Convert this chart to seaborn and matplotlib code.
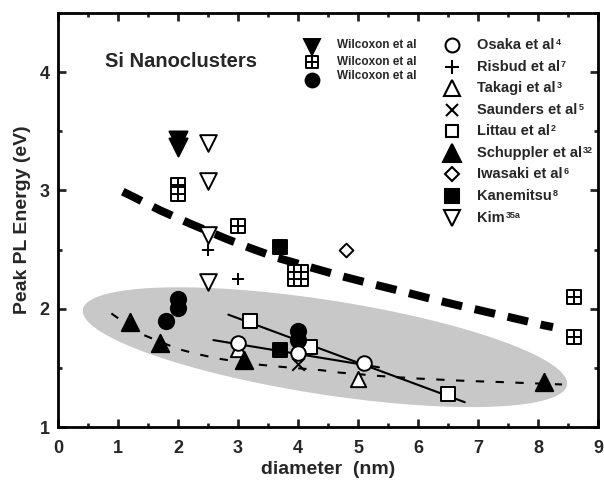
import numpy as np
import matplotlib
matplotlib.use('Agg')
import matplotlib.pyplot as plt
from matplotlib.path import Path
from matplotlib.ticker import MultipleLocator
import seaborn as sns

# ---- values: diameter (nm) / peak PL energy (eV) ----
wil_tri_d = [2.0, 2.0]
wil_tri_e = [3.43, 3.37]
wil_box_d = [2.0, 2.0, 3.0, 3.95, 4.05, 3.95, 4.05, 8.6, 8.6]
wil_box_e = [3.05, 2.97, 2.70, 2.31, 2.31, 2.25, 2.25, 2.10, 1.76]
wil_circ_d = [2.0, 2.0, 1.8, 4.0, 4.0]
wil_circ_e = [2.08, 2.01, 1.90, 1.81, 1.74]

osaka_d = [3.0, 4.0, 5.1]
osaka_e = [1.71, 1.63, 1.54]
risbud_d = [2.5, 3.0]
risbud_e = [2.50, 2.25]
takagi_d = [3.0, 5.0]
takagi_e = [1.66, 1.41]
saunders_d = [4.0]
saunders_e = [1.53]
littau_d = [3.2, 4.2, 6.5]
littau_e = [1.90, 1.68, 1.28]
schuppler_d = [1.2, 1.7, 3.1, 8.1]
schuppler_e = [1.89, 1.71, 1.57, 1.38]
iwasaki_d = [4.8]
iwasaki_e = [2.50]
kanemitsu_d = [3.7, 3.7]
kanemitsu_e = [2.52, 1.65]
kim_d = [2.5, 2.5, 2.5, 2.5]
kim_e = [3.40, 3.08, 2.62, 2.23]

# guide curves
thick_d = [1.08, 1.24, 1.71, 2.2, 2.81, 3.22, 3.66, 4.28, 4.77, 5.23, 5.67, 6.17, 6.66, 7.13, 7.6, 8.1, 8.25]
thick_e = [2.99, 2.95, 2.83, 2.72, 2.59, 2.51, 2.43, 2.34, 2.27, 2.21, 2.155, 2.09, 2.03, 1.975, 1.92, 1.86, 1.845]
thin_d = [0.89, 1.37, 2.0, 2.3, 2.65, 3.3, 3.7, 4.4, 4.7, 5.4, 6.0, 6.8, 7.4, 8.4]
thin_e = [1.96, 1.79, 1.66, 1.62, 1.58, 1.53, 1.51, 1.48, 1.46, 1.43, 1.41, 1.39, 1.38, 1.36]
osaka_fit_d = [2.59, 5.35]
osaka_fit_e = [1.735, 1.505]
littau_fit_d = [2.84, 6.78]
littau_fit_e = [1.95, 1.21]

# shaded region (centre, semi-axis vectors in data units)
ell_c = (4.45, 1.675)
ell_a = (4.035, -0.318)
ell_b = (0.12, 0.394)

# legend entries: name, reference number
legend_names = ['Osaka et al', 'Risbud et al', 'Takagi et al', 'Saunders et al', 'Littau et al',
                'Schuppler et al', 'Iwasaki et al', 'Kanemitsu', 'Kim']
legend_refs = ['4', '7', '3', '5', '2', '32', '6', '8', '35a']

sns.set_style('ticks')
plt.rcParams['font.family'] = ['Liberation Sans', 'DejaVu Sans']
plt.rcParams['font.weight'] = 'bold'

# square with a cross inside
boxplus = Path([(-1, -1), (1, -1), (1, 1), (-1, 1), (-1, -1), (-1, 0), (1, 0), (0, -1), (0, 1)],
               [Path.MOVETO, Path.LINETO, Path.LINETO, Path.LINETO, Path.CLOSEPOLY,
                Path.MOVETO, Path.LINETO, Path.MOVETO, Path.LINETO])

fig = plt.figure(figsize=(6.04, 4.82), dpi=100)
ax = fig.add_axes([0.096, 0.114, 0.894, 0.859])

t = np.linspace(0, 2 * np.pi, 200)
ax.fill(ell_c[0] + ell_a[0] * np.cos(t) + ell_b[0] * np.sin(t),
        ell_c[1] + ell_a[1] * np.cos(t) + ell_b[1] * np.sin(t),
        color='#c8c8c8', lw=0, zorder=1)

sns.lineplot(x=thick_d, y=thick_e, sort=False, estimator=None, color='k', lw=5.8,
             linestyle=(0, (2.6, 1.6)), ax=ax, zorder=2)
sns.lineplot(x=thin_d, y=thin_e, sort=False, estimator=None, color='k', lw=1.5,
             linestyle=(0, (4, 5.5)), ax=ax, zorder=2)
sns.lineplot(x=osaka_fit_d, y=osaka_fit_e, sort=False, estimator=None, color='k', lw=1.5, ax=ax, zorder=2)
sns.lineplot(x=littau_fit_d, y=littau_fit_e, sort=False, estimator=None, color='k', lw=1.5, ax=ax, zorder=2)


def pts(x, y, marker, ms, face='k', edge='k', lw=1.4, line_art=False):
    if line_art:
        sns.scatterplot(x=x, y=y, marker=marker, s=ms ** 2, color=edge, linewidth=lw,
                        ax=ax, zorder=4, legend=False)
    else:
        sns.scatterplot(x=x, y=y, marker=marker, s=ms ** 2, facecolor=face, edgecolor=edge,
                        linewidth=lw, ax=ax, zorder=4, legend=False)


pts(saunders_d, saunders_e, 'x', 9, line_art=True)
pts(risbud_d, risbud_e, '+', 9, line_art=True)
pts(kim_d, kim_e, 'v', 12, face='white')
pts(wil_tri_d, wil_tri_e, 'v', 13)
pts(wil_box_d, wil_box_e, boxplus, 9.5, face='white')
pts(kanemitsu_d, kanemitsu_e, 's', 10)
pts(littau_d, littau_e, 's', 9.5, face='white')
pts(takagi_d, takagi_e, '^', 11, face='white')
pts(schuppler_d, schuppler_e, '^', 12.5)
pts(wil_circ_d, wil_circ_e, 'o', 11)
pts(osaka_d, osaka_e, 'o', 10.5, face='white')
pts(iwasaki_d, iwasaki_e, 'D', 7, face='white')

ax.set_xlim(0, 9)
ax.set_ylim(1, 4.5)
ax.xaxis.set_major_locator(MultipleLocator(1))
ax.xaxis.set_minor_locator(MultipleLocator(0.5))
ax.yaxis.set_major_locator(MultipleLocator(1))
ax.yaxis.set_minor_locator(MultipleLocator(0.5))
ax.tick_params(which='both', direction='in', top=True, right=True, width=2)
ax.tick_params(which='major', length=6, labelsize=13)
ax.tick_params(axis='x', which='major', pad=9)
ax.tick_params(axis='y', which='major', pad=6)
ax.tick_params(which='minor', length=3)
for sp in ax.spines.values():
    sp.set_linewidth(2)
    sp.set_color('k')

ax.set_xlabel('diameter  (nm)', fontsize=14, fontweight='bold', labelpad=3)
ax.set_ylabel('Peak PL Energy (eV)', fontsize=14, fontweight='bold', labelpad=6)

ax.text(0.087, 0.882, 'Si Nanoclusters', transform=ax.transAxes, fontsize=14.5,
        fontweight='bold', ha='left', va='center')

# legend (right column)
leg_marks = [('o', 10, 'white'), ('+', 10, None), ('^', 11, 'white'), ('x', 9, None),
             ('s', 9, 'white'), ('^', 13, 'k'), ('D', 7.5, 'white'), ('s', 10, 'k'),
             ('v', 11, 'white')]
row_y = [0.923, 0.870, 0.819, 0.766, 0.715, 0.662, 0.611, 0.558, 0.505]
for (mk, ms, fc), name, ref, yy in zip(leg_marks, legend_names, legend_refs, row_y):
    ax.plot([0.730], [yy], marker=mk, ms=ms, mfc=fc if fc else 'k', mec='k', mew=1.5,
            ls='none', transform=ax.transAxes, clip_on=False, zorder=5)
    txt = ax.text(0.776, yy, name, transform=ax.transAxes, fontsize=10.5, fontweight='bold',
                  ha='left', va='center')
    ax.annotate(ref, xy=(1.0, 1.0), xycoords=txt, xytext=(0.8, 0), textcoords='offset points',
                fontsize=6.5, fontweight='bold', ha='left', va='top')

# legend (Wilcoxon group)
leg_left = [('v', 11, 'k', 0.918, 0.923),
            (boxplus, 8.5, 'white', 0.882, 0.882),
            ('o', 10, 'k', 0.838, 0.848)]
for mk, ms, fc, ym, yt in leg_left:
    ax.plot([0.470], [ym], marker=mk, ms=ms, mfc=fc, mec='k', mew=1.4,
            ls='none', transform=ax.transAxes, clip_on=False, zorder=5)
    ax.text(0.517, yt, 'Wilcoxon et al', transform=ax.transAxes, fontsize=8.5,
            fontweight='bold', ha='left', va='center')

fig.savefig('out.png', dpi=100, facecolor='white')
